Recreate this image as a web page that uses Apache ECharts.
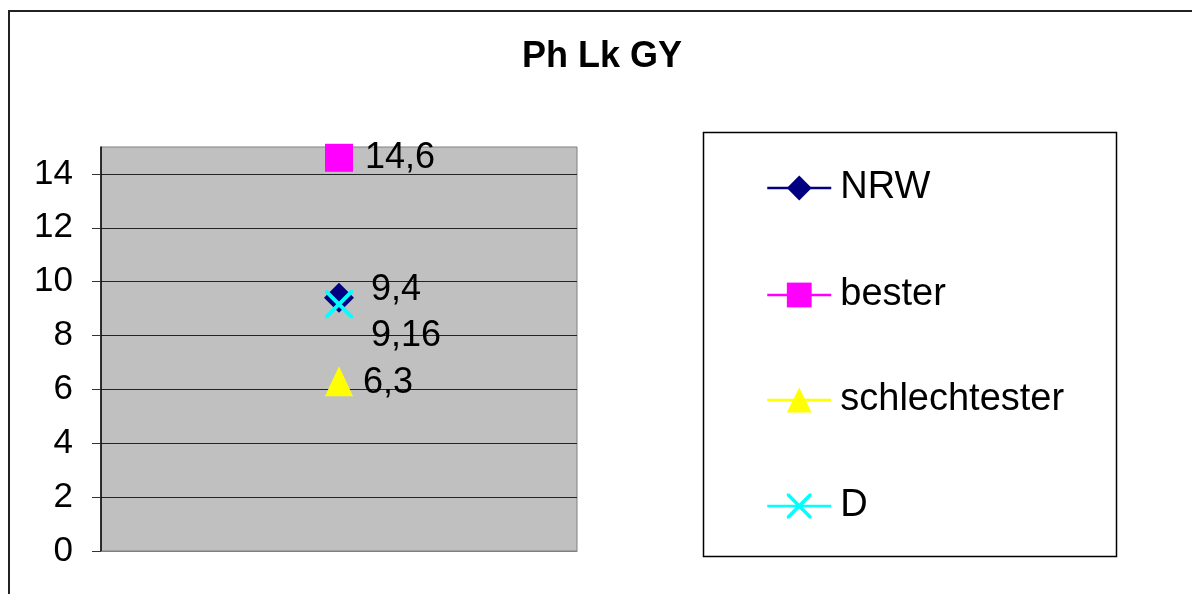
<!DOCTYPE html>
<html>
<head>
<meta charset="utf-8">
<script src="https://cdn.jsdelivr.net/npm/echarts@6/dist/echarts.min.js"></script>
<style>
html,body{margin:0;padding:0;background:#fff;}
#chart{width:1192px;height:594px;}
</style>
</head>
<body>
<div id="chart"></div>
<script>
const titleText = 'Ph Lk GY';
const categories = [''];
const seriesNames = ['NRW', 'bester', 'schlechtester', 'D'];
const nrwValues = [9.4];
const besterValues = [14.6];
const schlechtesterValues = [6.3];
const dValues = [9.16];
const yTicks = [0, 2, 4, 6, 8, 10, 12, 14];

const FONT = '"Liberation Sans", Arial, Helvetica, sans-serif';
const crossPath = 'path://M0,0 L2,0 L10,8 L18,0 L20,0 L20,2 L12,10 L20,18 L20,20 L18,20 L10,12 L2,20 L0,20 L0,18 L8,10 L0,2 Z';
const fmt = p => String(p.value).replace('.', ',');

const chart = echarts.init(document.getElementById('chart'));

function mkSeries(name, data, color, symbol, size, label) {
  return {
    name: name, type: 'line', data: data,
    symbol: symbol, symbolSize: size,
    itemStyle: {color: color},
    lineStyle: {color: color, width: 2},
    label: Object.assign({show: true, formatter: fmt, color: '#000', fontSize: 36, fontFamily: FONT}, label),
    emphasis: {disabled: true}
  };
}

function mkLegend(name, top) {
  return {
    data: [name], left: 766, top: top, padding: 0,
    itemWidth: 64, itemHeight: 31, itemGap: 0,
    textStyle: {fontSize: 38, fontFamily: FONT, color: '#000', padding: [0, 0, 0, 4]},
    lineStyle: {width: 2.5},
    selectedMode: false
  };
}

chart.setOption({
  animation: false,
  backgroundColor: '#fff',
  graphic: [
    {type: 'rect', shape: {x: 9, y: 11, width: 1300, height: 700}, style: {fill: 'none', stroke: '#222', lineWidth: 2}, z: 0},
    {type: 'rect', shape: {x: 703.5, y: 132.5, width: 413, height: 424}, style: {fill: '#fff', stroke: '#000', lineWidth: 1.5}, z: 0},
    {type: 'text', x: 602, y: 57, style: {text: titleText, font: 'bold 36px ' + FONT, fill: '#000', align: 'center', verticalAlign: 'middle'}, z: 10}
  ],
  legend: [
    mkLegend(seriesNames[0], 169),
    mkLegend(seriesNames[1], 276),
    mkLegend(seriesNames[2], 381),
    mkLegend(seriesNames[3], 487)
  ],
  grid: {left: 101, top: 147, width: 476, height: 404, show: true, backgroundColor: '#C0C0C0', borderColor: '#808080', borderWidth: 1},
  xAxis: {
    type: 'category', data: categories, boundaryGap: true,
    axisLine: {show: true, lineStyle: {color: '#808080', width: 1}},
    axisTick: {show: false}, axisLabel: {show: false}, splitLine: {show: false}
  },
  yAxis: {
    type: 'value', min: 0, max: 15, interval: 2,
    axisLine: {show: true, lineStyle: {color: '#000', width: 1.5}},
    axisTick: {show: true, length: 9, inside: false, lineStyle: {color: '#333'}, customValues: yTicks},
    axisLabel: {show: true, margin: 28, fontSize: 35, fontFamily: FONT, color: '#000', customValues: yTicks},
    splitLine: {show: true, lineStyle: {color: '#222', width: 1}}
  },
  series: [
    mkSeries(seriesNames[0], nrwValues, '#000080', 'diamond', 30, {position: 'right', distance: 17, offset: [0, -8]}),
    mkSeries(seriesNames[1], besterValues, '#FF00FF', 'rect', 28, {position: 'right', distance: 12}),
    mkSeries(seriesNames[2], schlechtesterValues, '#FFFF00', 'triangle', [28, 30], {position: 'right', distance: 10, offset: [0, 2]}),
    mkSeries(seriesNames[3], dValues, '#00FFFF', crossPath, 28, {position: 'right', distance: 18, offset: [0, 32]})
  ]
});
</script>
</body>
</html>
